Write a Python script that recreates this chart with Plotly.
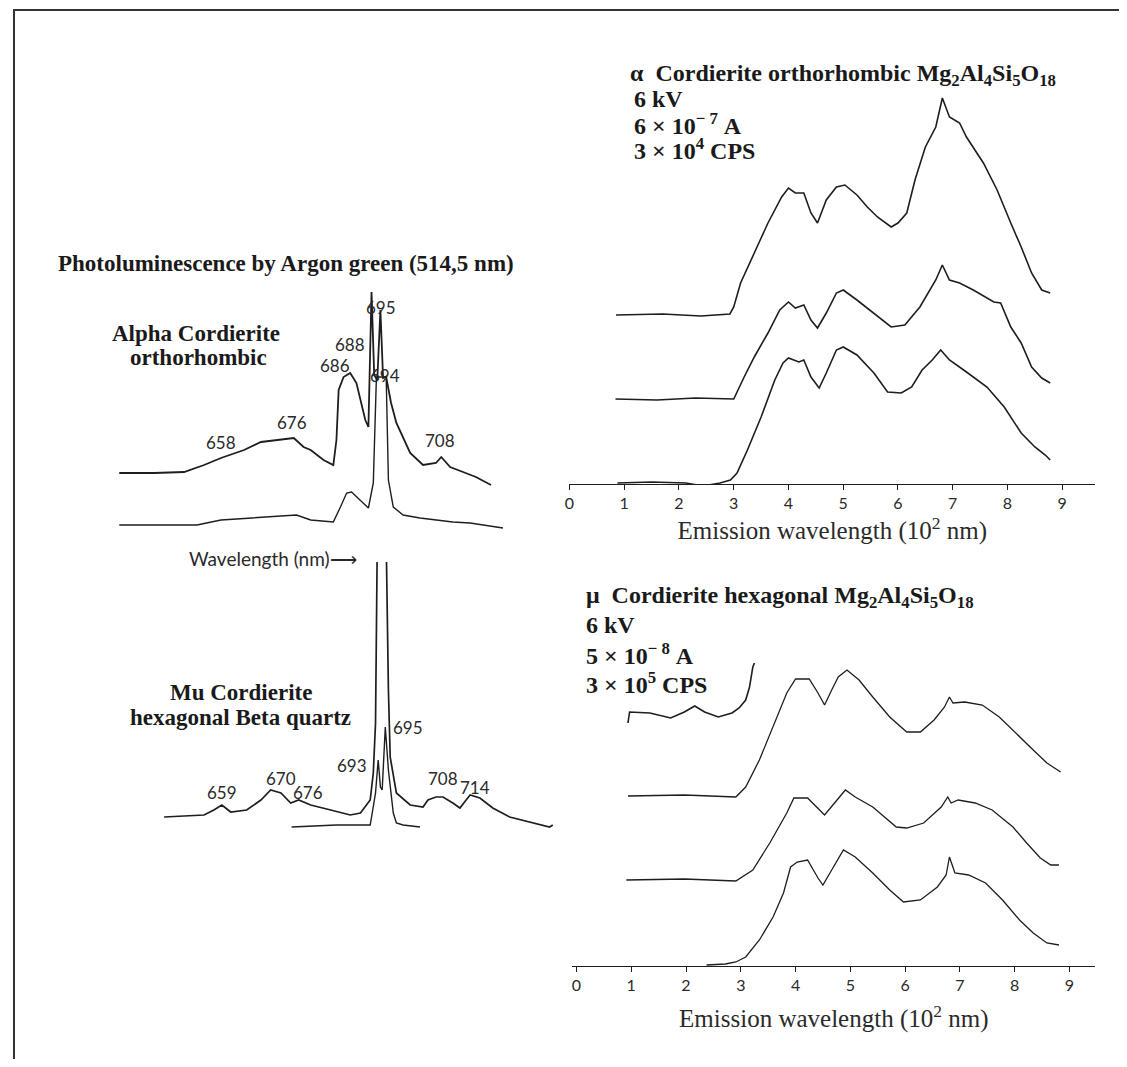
import plotly.graph_objects as go

# page is 1127x1067; the html body adds an 8px margin, so the figure is 1111x1051
OFF = 8
FW, FH = 1111, 1051

# ---------------- Left panel: photoluminescence (wavelength in nm, intensity a.u.) -------------
alpha_noisy_wl = [635.1, 643.0, 649.7, 654.2, 658.0, 663.2, 667.0, 671.5, 674.4, 676.6, 678.2, 681.1,
                  683.3, 684.0, 684.5, 685.6, 687.1, 688.5, 690.5, 691.2, 691.9, 692.5, 693.2, 693.9,
                  694.5, 695.2, 696.3, 697.5, 699.0, 700.6, 703.5, 706.4, 707.6, 709.6, 712.5, 715.4, 718.8]
alpha_noisy_int = [72, 72, 73, 80, 87, 95, 103, 105, 107, 98, 95, 85,
                   80, 105, 155, 168, 172, 162, 125, 118, 253, 170, 165, 235,
                   167, 168, 142, 122, 108, 92, 80, 82, 88, 78, 73, 68, 60]

alpha_smooth_wl = [635.1, 652.6, 658.0, 669.2, 675.0, 678.2, 683.3, 684.9, 686.3, 687.4, 689.4, 691.2,
                   692.3, 693.0, 695.2, 695.7, 696.8, 699.0, 702.8, 706.4, 710.2, 714.1, 721.5]
alpha_smooth_int = [20, 20, 25, 28, 30, 25, 23, 38, 52, 53, 45, 37,
                    62, 168, 168, 65, 38, 30, 27, 25, 23, 22, 17]

alpha_labels = ["658", "676", "686", "688", "695", "694", "708"]
alpha_label_wl = [658.0, 673.9, 683.7, 687.0, 694.1, 695.0, 707.3]
alpha_label_int = [103, 123, 180, 201, 238, 170, 105]

mu_noisy_wl = [645.2, 654.2, 656.4, 658.2, 660.2, 663.8, 667.0, 669.2, 671.5, 673.7, 675.5, 678.2,
               682.7, 687.1, 689.4, 691.6, 692.3, 692.8, 693.2, 695.2, 695.7, 696.1, 697.5, 700.6,
               703.5, 704.6, 706.4, 708.0, 710.2, 711.8, 713.2, 714.1, 716.3, 719.2, 723.0, 727.5,
               732.0, 732.7]
mu_noisy_int = [23, 25, 30, 35, 28, 30, 40, 50, 47, 37, 40, 35,
                30, 25, 27, 40, 67, 117, 300, 300, 150, 83, 47, 35,
                33, 40, 43, 43, 37, 32, 40, 45, 42, 32, 23, 18,
                13, 15]

mu_short_wl = [673.9, 684.0, 691.6, 692.8, 693.4, 693.9, 694.3, 695.0, 695.7, 696.8, 697.5, 699.0, 702.8]
mu_short_int = [13, 15, 15, 47, 80, 53, 50, 113, 70, 27, 17, 15, 13]

mu_labels = ["659", "670", "676", "693", "695", "708", "714"]
mu_label_wl = [658.2, 671.5, 677.7, 687.4, 700.2, 708.0, 715.2]
mu_label_int = [48, 62, 48, 75, 113, 62, 53]

# ---------------- Right top: alpha cordierite cathodoluminescence (10^2 nm) ----------------
a1_x = [0.85, 1.7, 2.4, 2.93, 3.0, 3.125, 3.375, 3.625, 3.875, 4.0, 4.125, 4.28, 4.41, 4.53, 4.69,
        4.875, 5.03, 5.25, 5.44, 5.625, 5.875, 6.0, 6.16, 6.31, 6.5, 6.69, 6.81, 6.94, 7.125, 7.25,
        7.56, 7.81, 8.06, 8.25, 8.44, 8.625, 8.78]
a1_y = [169, 170, 168, 170, 177, 201, 231, 261, 287, 296, 291, 291, 271, 261, 284,
        297, 299, 289, 277, 267, 257, 261, 271, 304, 337, 357, 386, 367, 361, 347,
        321, 294, 261, 237, 211, 194, 191]

a2_x = [0.84, 1.6, 2.3, 3.0, 3.19, 3.375, 3.625, 3.84, 4.0, 4.125, 4.28, 4.41, 4.53, 4.69, 4.875,
        5.0, 5.25, 5.56, 5.875, 6.125, 6.31, 6.4, 6.69, 6.81, 6.94, 7.125, 7.375, 7.75, 7.875,
        8.06, 8.25, 8.44, 8.625, 8.78]
a2_y = [85, 84, 86, 85, 107, 127, 151, 174, 182, 176, 179, 164, 156, 171, 191,
        194, 184, 171, 157, 159, 171, 177, 204, 219, 204, 201, 194, 182, 181,
        157, 141, 117, 106, 101]

a3_x = [0.875, 1.5, 2.125, 2.44, 2.75, 2.94, 3.06, 3.25, 3.5, 3.75, 3.9, 4.0, 4.19, 4.28, 4.41,
        4.56, 4.69, 4.875, 5.0, 5.25, 5.56, 5.81, 6.06, 6.25, 6.44, 6.625, 6.78, 6.94, 7.25,
        7.625, 7.94, 8.25, 8.5, 8.69, 8.78]
a3_y = [1, 2, 1, -2, 1, 4, 11, 34, 67, 104, 121, 126, 122, 124, 107,
        96, 111, 134, 137, 129, 111, 92, 91, 97, 114, 124, 134, 124, 112,
        97, 77, 51, 37, 29, 24]

# ---------------- Right bottom: mu cordierite cathodoluminescence (10^2 nm) ----------------
m1_x = [0.94, 0.97, 1.34, 1.72, 1.97, 2.16, 2.34, 2.59, 2.84, 2.97, 3.09, 3.16, 3.22, 3.25]
m1_y = [243, 254, 253, 248, 254, 260, 254, 249, 253, 258, 266, 279, 299, 303]

m2_x = [0.94, 1.97, 2.91, 3.09, 3.34, 3.59, 3.84, 4.0, 4.25, 4.41, 4.53, 4.66, 4.78, 4.94, 5.16,
        5.41, 5.72, 6.03, 6.28, 6.53, 6.72, 6.81, 6.875, 7.09, 7.41, 7.72, 8.03, 8.34, 8.59, 8.84]
m2_y = [170, 171, 169, 179, 206, 239, 273, 287, 287, 273, 261, 276, 289, 296, 286,
        269, 249, 234, 234, 246, 259, 269, 263, 264, 261, 249, 233, 216, 203, 194]

m3_x = [0.91, 1.97, 2.91, 3.22, 3.53, 3.84, 3.97, 4.22, 4.53, 4.75, 4.91, 5.09, 5.41, 5.84, 6.03,
        6.34, 6.66, 6.78, 6.84, 6.97, 7.28, 7.59, 7.97, 8.22, 8.47, 8.66, 8.81]
m3_y = [86, 87, 85, 96, 123, 153, 168, 168, 151, 166, 176, 169, 159, 139, 138,
        143, 159, 169, 163, 166, 163, 156, 139, 123, 108, 101, 101]

m4_x = [2.375, 2.72, 2.91, 3.09, 3.34, 3.59, 3.78, 3.91, 4.03, 4.22, 4.41, 4.5, 4.66, 4.875, 5.09,
        5.41, 5.72, 5.97, 6.28, 6.59, 6.75, 6.81, 6.91, 7.16, 7.47, 7.78, 8.09, 8.34, 8.59, 8.81]
m4_y = [1, 2, 4, 9, 26, 49, 73, 99, 104, 106, 88, 81, 96, 116, 109,
        93, 76, 64, 66, 79, 91, 109, 93, 91, 83, 66, 46, 33, 23, 21]

tick_vals = [0, 1, 2, 3, 4, 5, 6, 7, 8, 9]
tick_text = ["0", "1", "2", "3", "4", "5", "6", "7", "8", "9"]

# ---------------------------------------------------------------------------------
INK = "#1e1e1e"
SERIF = "Liberation Serif, Times New Roman, serif"
SANS = "Lato, Open Sans, sans-serif"
NB = "\u00a0"


def px(x):
    return (x - OFF) / FW


def py(y):
    return 1 - (y - OFF) / FH


fig = go.Figure()


def add_line(x, y, xa, ya, width=1.4):
    fig.add_trace(go.Scatter(x=x, y=y, mode="lines", xaxis=xa, yaxis=ya,
                             line=dict(color=INK, width=width), hoverinfo="skip",
                             showlegend=False))


add_line(alpha_noisy_wl, alpha_noisy_int, "x", "y", 1.8)
add_line(alpha_smooth_wl, alpha_smooth_int, "x", "y", 1.4)
add_line(mu_noisy_wl, mu_noisy_int, "x2", "y2", 1.7)
add_line(mu_short_wl, mu_short_int, "x2", "y2", 1.4)
for xs, ys in [(a1_x, a1_y), (a2_x, a2_y), (a3_x, a3_y)]:
    add_line(xs, ys, "x3", "y3", 1.6)
add_line(m1_x, m1_y, "x4", "y4", 1.6)
for xs, ys in [(m2_x, m2_y), (m3_x, m3_y), (m4_x, m4_y)]:
    add_line(xs, ys, "x4", "y4", 1.3)

hidden = dict(visible=False, fixedrange=True)
axis_common = dict(showline=True, linecolor=INK, linewidth=1.3, ticks="outside", ticklen=5,
                   tickwidth=1.3, tickcolor=INK, tickvals=tick_vals, ticktext=tick_text,
                   showgrid=False, zeroline=False,
                   tickfont=dict(family=SANS, size=16, color="#2a2a2a"))
title_font = dict(family=SERIF, size=25, color="#2a2a2a")

fig.update_layout(
    width=FW, height=FH, margin=dict(l=0, r=0, t=0, b=0),
    paper_bgcolor="white", plot_bgcolor="rgba(0,0,0,0)",
    xaxis=dict(domain=[px(100), px(560)], range=[631.8, 734.9], anchor="y", **hidden),
    yaxis=dict(domain=[py(545), py(290)], range=[0, 255], anchor="x", **hidden),
    xaxis2=dict(domain=[px(100), px(560)], range=[631.8, 734.9], anchor="y2", **hidden),
    yaxis2=dict(domain=[py(840), py(562)], range=[0, 278], anchor="x2", **hidden),
    xaxis3=dict(domain=[px(567), px(1095)], range=[0, 9.6], anchor="y3",
                title=dict(text="Emission wavelength (10<sup>2</sup> nm)", standoff=10,
                           font=title_font),
                **axis_common),
    yaxis3=dict(domain=[py(484), py(60)], range=[0, 424], anchor="x3", **hidden),
    xaxis4=dict(domain=[px(570), px(1095)], range=[-0.073, 9.47], anchor="y4",
                title=dict(text="Emission wavelength (10<sup>2</sup> nm)", standoff=16,
                           font=title_font),
                **axis_common),
    yaxis4=dict(domain=[py(966), py(560)], range=[0, 406], anchor="x4", **hidden),
    showlegend=False,
)

# frame (its right and bottom sides lie outside the page, as in the scan)
fig.add_shape(type="rect", xref="paper", yref="paper", x0=px(9), y0=-0.03, x1=1.03, y1=py(10),
              line=dict(color="#333", width=2))

annotations = []


def txt(text, x, y, size, family=SERIF, anchor="left", bold=True, color="#1a1a1a"):
    annotations.append(dict(text=f"<b>{text}</b>" if bold else text, x=px(x), y=py(y),
                            xref="paper", yref="paper", xanchor=anchor, yanchor="middle",
                            showarrow=False, font=dict(family=family, size=size, color=color)))


# left panel texts
txt("Photoluminescence by Argon green (514,5 nm)", 513, 263, 23, anchor="right")
txt("Alpha Cordierite", 192, 333, 23, anchor="center")
txt("orthorhombic", 194, 357, 23, anchor="center")
txt("Mu Cordierite", 237, 692, 23, anchor="center")
txt("hexagonal Beta quartz", 237, 717, 23, anchor="center")
txt("Wavelength (nm)\u27f6", 183, 558, 19, family=SANS, bold=False, color="#2a2a2a")

# peak labels (data coords)
for lab, xw, yi in zip(alpha_labels, alpha_label_wl, alpha_label_int):
    annotations.append(dict(text=lab, x=xw, y=yi, xref="x", yref="y", showarrow=False,
                            font=dict(family=SANS, size=17, color="#2a2a2a")))
for lab, xw, yi in zip(mu_labels, mu_label_wl, mu_label_int):
    annotations.append(dict(text=lab, x=xw, y=yi, xref="x2", yref="y2", showarrow=False,
                            font=dict(family=SANS, size=17, color="#2a2a2a")))

# right panel texts
X = NB + "\u00d7" + NB
txt("\u03b1" + NB + NB + "Cordierite orthorhombic Mg<sub>2</sub>Al<sub>4</sub>Si<sub>5</sub>O<sub>18</sub>",
    626, 75, 24)
txt("6 kV", 630, 99, 24)
txt("6" + X + "10<sup>\u2212" + NB + "7</sup>" + NB + "A", 630, 124, 24)
txt("3" + X + "10<sup>4</sup>" + NB + "CPS", 630, 149, 24)

txt("\u03bc" + NB + NB + "Cordierite hexagonal Mg<sub>2</sub>Al<sub>4</sub>Si<sub>5</sub>O<sub>18</sub>",
    582, 597, 24)
txt("6 kV", 582, 625, 24)
txt("5" + X + "10<sup>\u2212" + NB + "8</sup>" + NB + "A", 582, 654, 24)
txt("3" + X + "10<sup>5</sup>" + NB + "CPS", 582, 683, 24)

fig.update_layout(annotations=annotations)

fig.write_html("out.html")
